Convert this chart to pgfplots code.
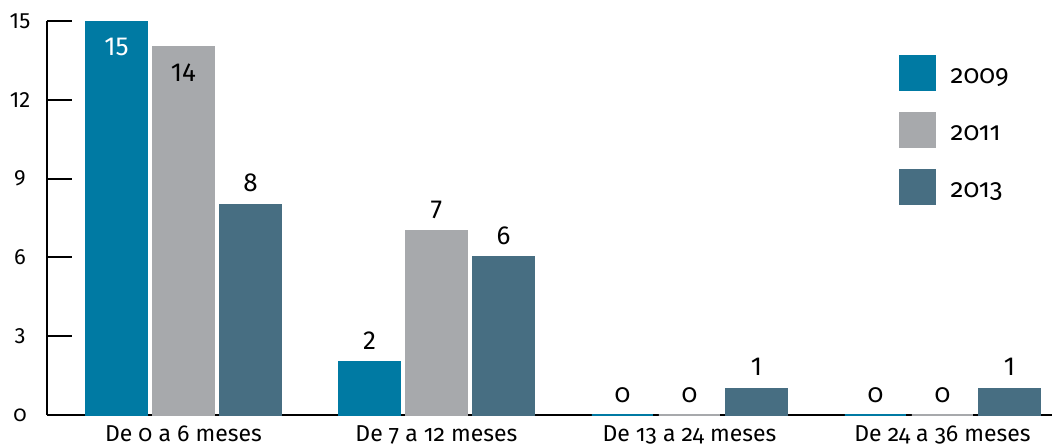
\documentclass[border=0pt]{standalone}
\usepackage{pgfplots}
\pgfplotsset{compat=1.18}
\usepackage{fontspec}
\setmainfont{Fira Sans}[Numbers=Lining]
\newfontfamily\os{Fira Sans}[Numbers=OldStyle]
\definecolor{c09}{RGB}{0,122,163}
\definecolor{c11}{RGB}{167,169,172}
\definecolor{c13}{RGB}{71,110,130}

\begin{document}
\begin{tikzpicture}
\begin{axis}[%
name=ax,
scale only axis,
width=502.5pt,
height=197pt,
xmin=-0.5395, xmax=3.433,
ymin=0, ymax=15,
axis x line=bottom,
axis y line=left,
axis line style={-, line width=1pt, black},
ybar=3pt,
bar width=30.5pt,
xtick={0,1,2,3},
xticklabels={De 0 a 6 meses, De 7 a 12 meses, De 13 a 24 meses, De 24 a 36 meses},
xtick style={draw=none},
xticklabel style={font=\os\fontsize{11.5}{13}\selectfont, anchor=base, yshift=-13pt},
ytick={0,3,6,9,12,15},
yticklabels={{\os 0},3,6,9,12,15},
tick align=inside,
major tick length=12.5pt,
ytick style={line width=1pt, black},
yticklabel style={font=\fontsize{11}{13}\selectfont, anchor=center, xshift=-13.5pt},
visualization depends on={rawy \as \rawy},
nodes near coords={\pgfmathtruncatemacro\v{\rawy}\ifnum\v=0 {\os 0}\else\ifnum\v>14 \color{white}\fi\v\fi},
every node near coord/.append style={font=\fontsize{13}{15}\selectfont, anchor=base, inner sep=0pt,
  yshift={ifthenelse(\rawy>13,-17,6.5)}},
legend cell align=left,
legend style={at={(rel axis cs:0.847,0.916)}, anchor=north west, draw=none, fill=none,
  font=\os\fontsize{13}{15}\selectfont, row sep=10.5pt, inner sep=0pt,
  /tikz/every odd column/.append style={column sep=5.5pt}},
legend image code/.code={\fill[#1] (0pt,-6pt) rectangle (17.5pt,11pt);},
]
% 2009
\addplot[fill=c09, draw=c09, line width=1pt] coordinates {(0,15) (1,2) (2,0) (3,0)};
% 2011
\addplot[fill=c11, draw=c11, line width=1pt] coordinates {(0,14) (1,7) (2,0) (3,0)};
% 2013
\addplot[fill=c13, draw=c13, line width=1pt] coordinates {(0,8) (1,6) (2,1) (3,1)};
\legend{2009,2011,2013}
\end{axis}
\pgfresetboundingbox
\path[use as bounding box] ([xshift=-23.5pt,yshift=-15.5pt]ax.south west) rectangle ([yshift=10.5pt]ax.north east);
\end{tikzpicture}
\end{document}
